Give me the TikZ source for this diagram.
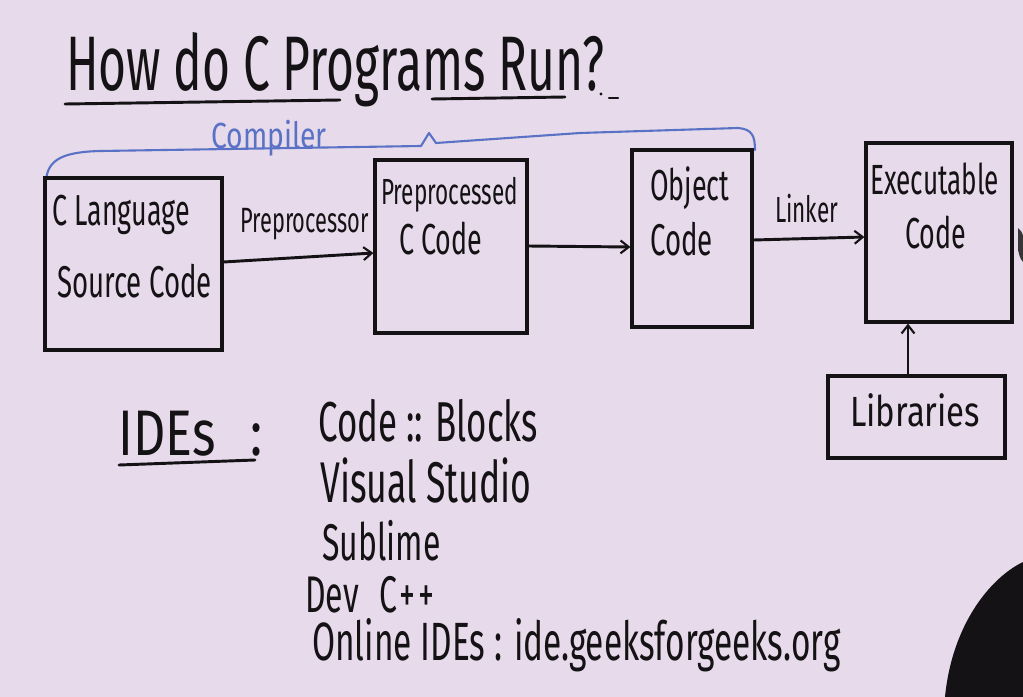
\documentclass[tikz,border=0pt]{standalone}
\usepackage{fontspec}
\setmainfont{Fira Sans}[FakeStretch=0.78]
\newfontfamily\handN{Fira Sans}[FakeStretch=0.62]
\newfontfamily\handW{Fira Sans}[FakeStretch=0.78]
\usetikzlibrary{arrows.meta,fit}
\definecolor{board}{HTML}{E7DAEA}
\definecolor{ink}{HTML}{141214}
\definecolor{bluepen}{HTML}{5A72C6}
\tikzset{
  box/.style={draw=ink, line width=2.7pt, inner sep=0pt},
  txt/.style={anchor=base west, inner sep=0pt, text=ink},
  nsz/.style={txt, font=\handN\fontsize{#1}{#1}\selectfont},
  wsz/.style={txt, font=\handW\fontsize{#1}{#1}\selectfont},
  pen/.style={draw=ink, line width=2.5pt, line cap=round},
  arr/.style={pen, -{Straight Barb[length=7pt,width=11pt,line width=1.8pt]}},
}
\begin{document}
\begin{tikzpicture}[x=0.03cm,y=-0.03cm]
\fill[board] (0,0) rectangle (1023,697);
\useasboundingbox (0,0) rectangle (1023,697);
% title
\node[nsz=66] (title) at (66,90) {How do C Programs Run?};
\draw[pen] (65,104) -- (340,100);
\draw[pen] (432,99) -- (565,97);
\fill[ink] (601,94) circle (1.6);
\draw[pen, line width=1.8pt] (609,98) -- (618,98);
% compiler brace
\draw[bluepen, line width=1.8pt, line cap=round, line join=round]
  (46,180) .. controls (48,160) and (62,152) .. (100,151)
  -- (421,146) -- (429,133) -- (436,143)
  -- (580,133) -- (738,128) .. controls (752,129) and (755,136) .. (755,150);
\node[wsz=31, text=bluepen] (compiler) at (211,148) {Compiler};
% boxes
\node[box, fit={(45,178) (222,350)}] (src) {};
\node[box, fit={(375,160) (527,333)}] (pre) {};
\node[box, fit={(632,150) (752,327)}] (obj) {};
\node[box, fit={(866,143) (1012,322)}] (exe) {};
\node[box, fit={(828,376) (1005,458)}] (lib) {};
% box texts
\node[nsz=37] (srcA) at (52,225) {C Language};
\node[nsz=38] (srcB) at (57,297) {Source Code};
\node[nsz=31] (preA) at (381,204) {Preprocessed};
\node[nsz=37] (preB) at (399,254) {C Code};
\node[nsz=37] (objA) at (650,200) {Object};
\node[nsz=38] (objB) at (650,255) {Code};
\node[nsz=36] (exeA) at (870,194) {Executable};
\node[nsz=37] (exeB) at (905,248) {Code};
\node[wsz=36] (libA) at (850,426) {Libraries};
% connectors
\node[nsz=30] (ppl) at (240,232) {Preprocessor};
\node[nsz=31] (lnk) at (775,222) {Linker};
\draw[arr] (src.east |- 0,262) -- (pre.west |- 0,253);
\draw[arr] (pre.east |- 0,246) -- (obj.west |- 0,247);
\draw[arr] (obj.east |- 0,240) -- (exe.west |- 0,237);
\draw[arr] (lib.north -| 908,0) -- (exe.south -| 908,0);
% IDEs
\node[wsz=55] (ides) at (118,455) {IDEs\hspace{0.55em}:};
\draw[pen] (119,465) -- (255,460);
\node[nsz=48] (ide1) at (318,441) {Code :: Blocks};
\node[nsz=49] (ide2) at (320,502) {Visual Studio};
\node[nsz=44] (ide3) at (322,560) {Sublime};
\node[nsz=44] (ide4) at (305,612) {Dev\hspace{0.4em}C\kern0.05em+\kern0.05em+};
\node[nsz=46] (ide5) at (312,660) {Online IDEs : ide.geeksforgeeks.org};
% dark shape at lower right
\fill[ink] (945,697) .. controls (952,625) and (990,578) .. (1023,562) -- (1023,697) -- cycle;
\fill[ink!85] (1018,228) .. controls (1022,232) .. (1023,236) -- (1023,262) .. controls (1020,258) .. (1018,250) -- cycle;
\end{tikzpicture}
\end{document}
